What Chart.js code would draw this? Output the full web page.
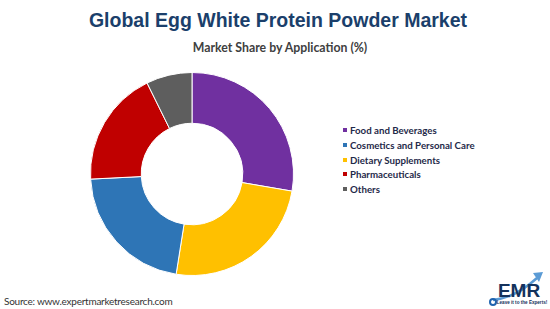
<!DOCTYPE html>
<html><head><meta charset="utf-8">
<script src="https://cdn.jsdelivr.net/npm/chart.js@4"></script>
<style>
html,body{margin:0;padding:0;background:#fff;width:550px;height:309px;overflow:hidden;position:relative;font-family:Lato,"Noto Sans",sans-serif}
#title{position:absolute;left:0;width:556px;top:9px;text-align:center;font-family:"Liberation Sans",Arial,sans-serif;font-weight:bold;font-size:19.5px;color:#1B3F6B}
#sub{position:absolute;left:0;width:560px;top:40px;text-align:center;font-weight:bold;font-size:12.3px;color:#404040}
#box{position:absolute;left:89px;top:71px;width:206px;height:206px}
#legend{position:absolute;left:343px;top:123px}
.li{height:14.7px;display:flex;align-items:center;font-weight:bold;font-size:9.7px;color:#1F2A4A;white-space:nowrap}
.sw{width:4px;height:4px;margin-right:3px}
#src{position:absolute;left:4px;top:295px;font-size:10px;letter-spacing:-0.25px;color:#333}
#logo{position:absolute;left:487px;top:264px;width:62px;height:45px}
</style></head><body>
<div id="title">Global Egg White Protein Powder Market</div>
<div id="sub">Market Share by Application (%)</div>
<div id="box"><canvas id="c" width="206" height="206"></canvas></div>
<div id="legend"></div>
<div id="src">Source: www.expertmarketresearch.com</div>
<svg id="logo" viewBox="0 0 62 45">
  <path d="M6 36 Q28 34 50 14" stroke="#5B9BD5" stroke-width="2.5" fill="none"/>
  <polygon points="46,9 56,8 52,18" fill="#5B9BD5"/>
  <circle cx="6" cy="38" r="3" fill="none" stroke="#1F64B0" stroke-width="2"/>
  <text x="32" y="33" text-anchor="middle" font-family="Liberation Sans,Arial" font-weight="bold" font-size="19" fill="#14325C">EMR</text>
  <text x="35" y="40" text-anchor="middle" font-family="Liberation Sans,Arial" font-weight="bold" font-size="4.6" fill="#14325C">Leave it to the Experts!</text>
</svg>
<script>
const categories = ["Food and Beverages","Cosmetics and Personal Care","Dietary Supplements","Pharmaceuticals","Others"];
const shares = [27.7, 21.7, 24.8, 18.5, 7.3];
const colors = ["#7030A0","#2E75B6","#FFC000","#C00000","#5E5E5E"];
const drawOrder = [0, 2, 1, 3, 4];

const leg = document.getElementById('legend');
categories.forEach((c,i)=>{
  const d=document.createElement('div');d.className='li';
  d.innerHTML='<span class="sw" style="background:'+colors[i]+'"></span>'+c;
  leg.appendChild(d);
});

new Chart(document.getElementById('c'), {
  type: 'doughnut',
  data: {
    labels: drawOrder.map(i=>categories[i]),
    datasets: [{
      data: drawOrder.map(i=>shares[i]),
      backgroundColor: drawOrder.map(i=>colors[i]),
      borderColor: '#ffffff',
      borderWidth: 1
    }]
  },
  options: {
    responsive: false,
    animation: false,
    cutout: '50%',
    layout: {padding: 1},
    plugins: {legend: {display: false}, tooltip: {enabled: false}}
  }
});
</script>
</body></html>
